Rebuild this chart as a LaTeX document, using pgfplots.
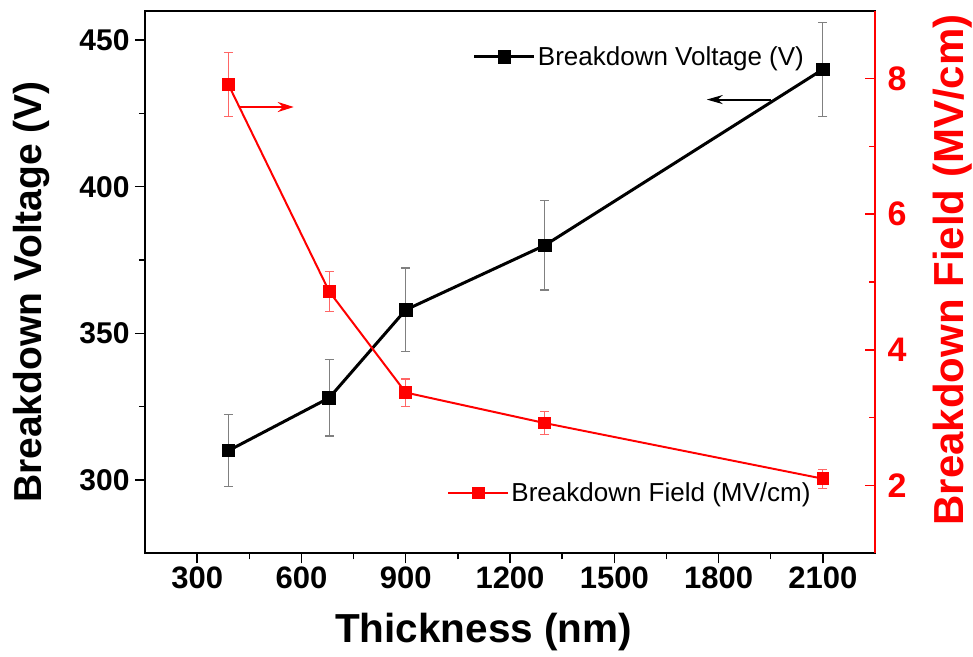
\documentclass[border=0pt]{standalone}
\usepackage{fontspec}
\setmainfont{Liberation Sans}
\usepackage{pgfplots}
\pgfplotsset{compat=1.18}
\usepackage{pgfplotstable}
\usetikzlibrary{arrows.meta}

\pgfplotstableread{
x y e
390 310 12.3
680 328 13.0
900 358 14.3
1300 380 15.2
2100 440 16.0
}\voltage

\pgfplotstableread{
x y e
390 7.91 0.47
680 4.86 0.29
900 3.37 0.20
1300 2.92 0.17
2100 2.10 0.14
}\field

\begin{document}
\begin{tikzpicture}
\useasboundingbox (-145pt,-102.7pt) rectangle (828pt,553.3pt);
\begin{axis}[
  at={(0pt,0pt)}, anchor=south west,
  scale only axis, width=730pt, height=542.6pt,
  xmin=150, xmax=2250, ymin=275, ymax=460,
  xtick={300,600,900,1200,1500,1800,2100},
  ytick={300,350,400,450},
  minor x tick num=1, minor y tick num=1,
  xtick pos=left, ytick pos=left,
  tick align=outside,
  major tick length=10pt, minor tick length=6pt,
  axis line style={line width=2pt},
  every tick/.style={black, line width=1.5pt},
  /pgf/number format/assume math mode=true,
  /pgf/number format/1000 sep={},
  x tick label style={font=\fontsize{31}{31}\selectfont\bfseries},
  y tick label style={font=\fontsize{30}{30}\selectfont\bfseries, xshift=-2pt},
  xlabel={Thickness (nm)},
  ylabel={Breakdown Voltage (V)},
  every axis x label/.style={at={(axis description cs:0.464,-0.145)}, anchor=center, font=\fontsize{40.5}{40.5}\selectfont\bfseries},
  every axis y label/.style={at={(axis description cs:-0.155,0.4816)}, anchor=center, rotate=90, font=\fontsize{39}{39}\selectfont\bfseries},
  clip=false,
  legend style={at={(axis description cs:0.449,0.915)}, anchor=west, draw=none, fill=none, inner sep=0pt,
    font=\fontsize{26}{26}\selectfont},
  legend image code/.code={\draw[mark repeat=2,mark phase=2,#1] plot coordinates {(0pt,0pt) (30pt,0pt) (60pt,0pt)};},
]
\addplot[black, line width=3pt, mark=square*, mark size=5.3pt, mark options={solid},
  error bars/.cd, y dir=both, y explicit,
  error bar style={black!50, line width=1.2pt},
  error mark options={rotate=90, black!50, mark size=4.5pt, line width=1.2pt}]
  table[x=x, y=y, y error=e] {\voltage};
\addlegendentry{Breakdown Voltage (V)}
\draw[black, line width=2pt, -{Stealth[length=16pt, width=9pt]}] (axis cs:1951,429.7) -- (axis cs:1766,429.7);
\end{axis}
\begin{axis}[
  at={(0pt,0pt)}, anchor=south west,
  scale only axis, width=730pt, height=542.6pt,
  xmin=150, xmax=2250, ymin=1, ymax=9,
  hide x axis, axis y line*=right,
  ytick={2,4,6,8}, minor y tick num=1,
  tick align=inside,
  major tick length=10pt, minor tick length=6pt,
  axis line style={red, line width=2pt},
  every tick/.style={red, line width=1.5pt},
  /pgf/number format/assume math mode=true,
  y tick label style={red, font=\fontsize{34}{34}\selectfont\bfseries, xshift=9pt},
  ylabel={Breakdown Field (MV/cm)},
  every axis y label/.style={at={(axis description cs:1.106,0.522)}, anchor=center, rotate=90, red, font=\fontsize{42}{42}\selectfont\bfseries},
  clip=false,
  legend style={at={(axis description cs:0.414,0.111)}, anchor=west, draw=none, fill=none, inner sep=0pt,
    font=\fontsize{26}{26}\selectfont},
  legend image code/.code={\draw[mark repeat=2,mark phase=2,#1] plot coordinates {(0pt,0pt) (30pt,0pt) (60pt,0pt)};},
]
\addplot[red, line width=2pt, mark=square*, mark size=5.3pt, mark options={solid},
  error bars/.cd, y dir=both, y explicit,
  error bar style={red!60, line width=1.2pt},
  error mark options={rotate=90, red!60, mark size=4.5pt, line width=1.2pt}]
  table[x=x, y=y, y error=e] {\field};
\addlegendentry{Breakdown Field (MV/cm)}
\draw[red, line width=2.5pt, -{Stealth[length=16pt, width=10pt]}] (axis cs:423,7.58) -- (axis cs:578,7.58);
\end{axis}
\end{tikzpicture}
\end{document}
